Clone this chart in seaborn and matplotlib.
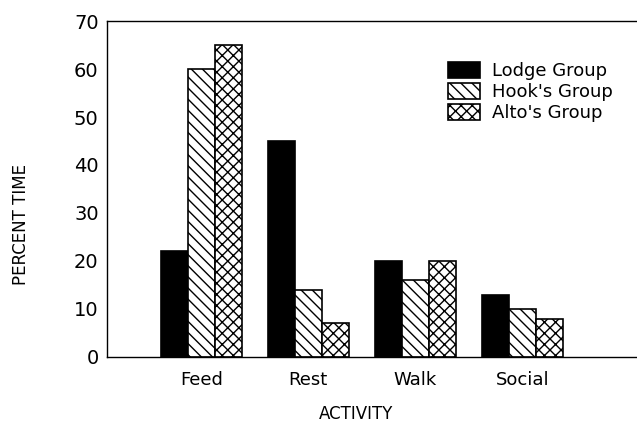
import matplotlib
matplotlib.use("Agg")
import matplotlib.pyplot as plt
import pandas as pd
import seaborn as sns

# ===== Data =====
activities = ["Feed", "Rest", "Walk", "Social"]
groups = ["Lodge Group", "Hook's Group", "Alto's Group"]
lodge = [22, 45, 20, 13]
hook = [60, 14, 16, 10]
alto = [65, 7, 20, 8]

df = pd.DataFrame({
    "activity": activities * 3,
    "group": [groups[0]] * 4 + [groups[1]] * 4 + [groups[2]] * 4,
    "percent": lodge + hook + alto,
})

sns.set_style("white")
plt.rcParams["font.family"] = ["DejaVu Sans"]
plt.rcParams["hatch.linewidth"] = 1.0
plt.rcParams["text.color"] = "black"
plt.rcParams["axes.labelcolor"] = "black"
plt.rcParams["xtick.color"] = "black"
plt.rcParams["ytick.color"] = "black"

fig = plt.figure(figsize=(6.37, 4.30), dpi=100)
ax = fig.add_axes([0.168, 0.170, 0.832, 0.781])

sns.barplot(data=df, x="activity", y="percent", hue="group", order=activities,
            hue_order=groups, palette=["black", "white", "white"],
            width=0.76, gap=0, edgecolor="black", linewidth=1.2,
            saturation=1, ax=ax)

hatches = ["", "\\\\\\", "xxx"]
for cont, h in zip(ax.containers, hatches):
    for bar in cont:
        bar.set_hatch(h)

ax.set_xlim(-0.88, 4.07)
ax.set_ylim(0, 70)
ax.set_yticks(range(0, 71, 10))
ax.tick_params(axis="y", direction="inout", length=8, width=1, labelsize=14, pad=2,
               colors="black")
ax.tick_params(axis="x", length=0, labelsize=13, pad=10, colors="black")

for side in ["left", "bottom", "top"]:
    ax.spines[side].set_visible(True)
    ax.spines[side].set_color("black")
    ax.spines[side].set_linewidth(1)
ax.spines["right"].set_visible(False)

ax.set_xlabel("ACTIVITY", fontsize=12, color="black")
ax.set_ylabel("PERCENT TIME", fontsize=12, color="black")
ax.xaxis.set_label_coords(0.47, -0.144)
ax.yaxis.set_label_coords(-0.145, 0.393)

leg = ax.legend(loc="upper left", bbox_to_anchor=(0.629, 0.90), frameon=False,
                fontsize=13, handlelength=1.8, handleheight=1.0,
                handletextpad=0.65, labelspacing=0.15, borderaxespad=0)
for patch, h in zip(leg.get_patches(), hatches):
    patch.set_hatch(h)
    patch.set_edgecolor("black")
for t in leg.get_texts():
    t.set_color("black")

fig.savefig("out.png", dpi=100)
